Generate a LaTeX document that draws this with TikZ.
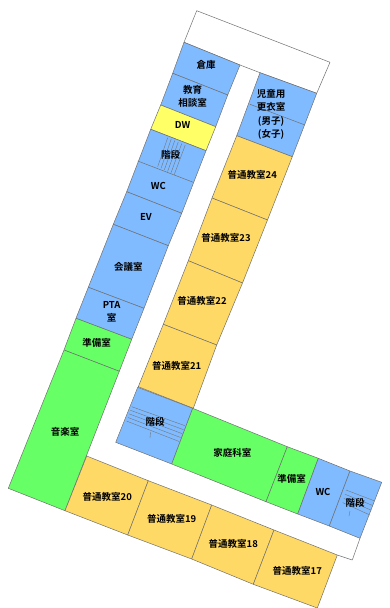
\documentclass[tikz,border=0pt]{standalone}
\usepackage{fontspec}
\setmainfont{Noto Sans CJK JP}[BoldFont={* Bold}]
\usepackage{xcolor}
\definecolor{roomblue}{HTML}{80BBFF}
\definecolor{roomgreen}{HTML}{66FF66}
\definecolor{roomorange}{HTML}{FFD966}
\definecolor{roomyellow}{HTML}{FFFF66}
\definecolor{wallgray}{HTML}{707070}
\tikzset{wall/.style={draw=wallgray, line width=0.5pt, line join=round}}
\tikzset{tread/.style={draw=wallgray, line width=0.35pt}}
\tikzset{label/.style={font=\fontsize{9.5}{13.5}\selectfont\bfseries, align=center, inner sep=0pt, text=black}}
\begin{document}
\begin{tikzpicture}[x=1pt,y=-1pt]
\useasboundingbox (0,0) rectangle (390,608);
% corridor
\draw[wall,fill=white] (184,42.3) -- (196.7,10.7) -- (330,62.3) -- (316.7,93.3) -- (260,72.7) -- (240,65) -- cycle;
\draw[wall,fill=white] (360,538.3) -- (352.3,560) -- (337.3,555);
% left wing
\draw[wall,fill=roomblue] (184,42.3) -- (240,65) -- (227.7,95) -- (172.7,73.3) -- cycle;
\draw[wall,fill=roomblue] (172.7,73.3) -- (227.7,95) -- (215.7,126.7) -- (160.7,105) -- cycle;
\draw[wall,fill=roomyellow] (160.7,105) -- (215.7,126.7) -- (206,150.7) -- (150.7,129.3) -- cycle;
\draw[wall,fill=roomblue] (150.7,129.3) -- (206,150.7) -- (181.7,213.3) -- (126.7,191.7) -- cycle;
\draw[wall] (137.7,161) -- (193.3,182.3);
\draw[wall,fill=roomblue] (126.7,191.7) -- (181.7,213.3) -- (168.3,245.7) -- (113.3,224.3) -- cycle;
\draw[wall,fill=roomblue] (113.3,224.3) -- (168.3,245.7) -- (144,308.3) -- (88.3,287.3) -- cycle;
\draw[wall,fill=roomblue] (88.3,287.3) -- (144,308.3) -- (131.7,339.3) -- (76,318.3) -- cycle;
\draw[wall,fill=roomgreen] (76,318.3) -- (131.7,339.3) -- (119.3,371.3) -- (64,350) -- cycle;
\draw[wall,fill=roomgreen] (64,350) -- (119.3,371.3) -- (65,510.7) -- (8.3,488.3) -- cycle;
% stairs in left wing
\foreach \s in {0,1,2,3,4,5}
  \draw[tread] ({167.7+\s*3.5},{137.7+\s*1.5}) -- ({157.7+\s*3.3},{166.7+\s*1.6});
% right wing
\draw[wall,fill=roomblue] (260,72.7) -- (316.7,93.3) -- (292.3,156.7) -- (236.7,135.7) -- cycle;
\draw[wall] (250,104.3) -- (305,125);
\draw[wall,fill=roomorange] (236.7,135.7) -- (292.3,156.7) -- (267.5,220) -- (212,198) -- cycle;
\draw[wall,fill=roomorange] (212,198) -- (267.5,220) -- (242.5,283) -- (188.3,260.7) -- cycle;
\draw[wall,fill=roomorange] (188.3,260.7) -- (242.5,283) -- (216.7,345) -- (163.3,324.3) -- cycle;
\draw[wall,fill=roomorange] (163.3,324.3) -- (216.7,345) -- (193.3,408.3) -- (138.3,386.7) -- cycle;
% lower wing
\draw[wall,fill=roomblue] (137.7,387.3) -- (192.7,408.3) -- (171.7,464) -- (115.7,442.3) -- cycle;
\foreach \s in {0,1,2,3,4}
  \draw[tread] ({131.7-\s*1.25},{406.7+\s*3.6}) -- ({185-\s*1.45},{425.7+\s*3.95});
\draw[tread] (150.5,432) -- (150,438);
\draw[wall,fill=roomgreen] (192.7,408.3) -- (287.3,446.7) -- (266,501.7) -- (171.7,464) -- cycle;
\draw[wall,fill=roomgreen] (287.3,446.7) -- (318.3,458.3) -- (297.7,514) -- (266,501.7) -- cycle;
\draw[wall,fill=roomblue] (318.3,458.3) -- (350,471) -- (329.3,526) -- (297.7,514) -- cycle;
\draw[wall,fill=roomblue] (350,471) -- (381.7,482.3) -- (360,538.3) -- (329.3,526) -- cycle;
\foreach \s in {0,1,2,3}
  \draw[tread] ({346-\s*1.1},{490+\s*4.2}) -- ({374-\s*1.3},{500.7+\s*4.8});
\draw[tread] (350,511) -- (349,516);
% lower classrooms
\draw[wall,fill=roomorange] (86.7,456) -- (148.3,480.7) -- (127.7,535) -- (65,510.7) -- cycle;
\draw[wall,fill=roomorange] (148.3,480.7) -- (211.7,505) -- (191.7,559) -- (127.7,535) -- cycle;
\draw[wall,fill=roomorange] (211.7,505) -- (274,530) -- (253.3,584.3) -- (191.7,559) -- cycle;
\draw[wall,fill=roomorange] (274,530) -- (337.3,555) -- (317.3,608) -- (253.3,584.3) -- cycle;
% room names
\node[label] (souko) at (206,65) {倉庫};
\node[label] (soudan) at (192.7,96.5) {教育\\相談室};
\node[label] (dw) at (182.7,125) {DW};
\node[label] (kaidanA) at (170.7,155) {階段};
\node[label] (wcA) at (158.3,186) {WC};
\node[label] (ev) at (146,217.3) {EV};
\node[label] (kaigi) at (128.3,266.7) {会議室};
\node[label] (pta) at (111.7,312) {PTA\\室};
\node[label] (junbiA) at (96.7,342.7) {準備室};
\node[label] (ongaku) at (65,432.3) {音楽室};
\node[label] (koui) at (271,114.5) {児童用\\更衣室\\(男子)\\(女子)};
\node[label] (k24) at (252.3,175) {普通教室24};
\node[label] (k23) at (226,238) {普通教室23};
\node[label] (k22) at (202,301) {普通教室22};
\node[label] (k21) at (176.7,365.7) {普通教室21};
\node[label] (kaidanB) at (155,421.7) {階段};
\node[label] (katei) at (232.3,453.3) {家庭科室};
\node[label] (junbiB) at (291.7,479) {準備室};
\node[label] (wcB) at (323,492) {WC};
\node[label] (kaidanC) at (355,503.3) {階段};
\node[label] (k20) at (107.3,497.3) {普通教室20};
\node[label] (k19) at (171.7,519.3) {普通教室19};
\node[label] (k18) at (233.3,544.3) {普通教室18};
\node[label] (k17) at (297.3,571) {普通教室17};
\end{tikzpicture}
\end{document}
